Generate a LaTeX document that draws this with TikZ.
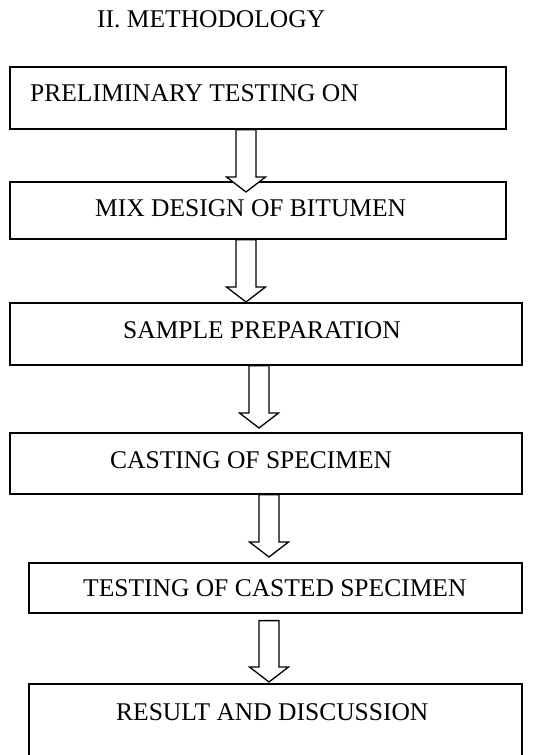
\documentclass[tikz,border=0pt]{standalone}
\usepackage{fontspec}
\setmainfont{Liberation Serif}
\usetikzlibrary{calc}
\newcommand\blkarrow[2]{%
  \draw[blockarr] ($(#1)+(-10,0)$) -- ($(#2)+(-10,-15)$) -- ($(#2)+(-19.5,-15)$) -- (#2)
    -- ($(#2)+(19.5,-15)$) -- ($(#2)+(10,-15)$) -- ($(#1)+(10,0)$) -- cycle;}
\begin{document}
\begin{tikzpicture}[x=1pt,y=-1pt,
  stepbox/.style={draw, line width=1.6pt, rectangle, inner sep=0pt, anchor=north west},
  lbl/.style={font=\fontsize{25.5}{30}\selectfont, anchor=base west, inner sep=0pt},
  blockarr/.style={draw, fill=white, line width=1.3pt, line join=miter}]
\useasboundingbox (0,0) rectangle (539,755);
\clip (0,0) rectangle (539,755);
\fill[white] (0,0) rectangle (539,755);

\node[lbl] (title) at (97,27) {II. METHODOLOGY};

\node[stepbox, minimum width=496pt, minimum height=62pt] (b1) at (9,66) {};
\node[stepbox, minimum width=496pt, minimum height=57pt] (b2) at (9,181) {};
\node[stepbox, minimum width=512pt, minimum height=62pt] (b3) at (9,302) {};
\node[stepbox, minimum width=512pt, minimum height=61pt] (b4) at (9,432) {};
\node[stepbox, minimum width=493pt, minimum height=50pt] (b5) at (28,562) {};
\node[stepbox, minimum width=493pt, minimum height=110pt] (b6) at (28,683) {};

\node[lbl] (t1) at (30,101.5) {PRELIMINARY TESTING ON};
\node[lbl] (t2) at (95,216.5) {MIX DESIGN OF BITUMEN};
\node[lbl] (t3) at (123,338.3) {SAMPLE PREPARATION};
\node[lbl] (t4) at (110,468.3) {CASTING OF SPECIMEN};
\node[lbl] (t5) at (83,596.7) {TESTING OF CASTED SPECIMEN};
\node[lbl] (t6) at (116,720) {RESULT AND DISCUSSION};

\coordinate (a1s) at ($(b1.south west)+(237,0)$);
\coordinate (a1t) at ($(b2.north west)+(237,11)$);
\coordinate (a2s) at ($(b2.south west)+(237,0)$);
\coordinate (a2t) at ($(b3.north west)+(237,0)$);
\coordinate (a3s) at ($(b3.south west)+(250,0)$);
\coordinate (a3t) at ($(b4.north west)+(250,-4)$);
\coordinate (a4s) at ($(b4.south west)+(260,0)$);
\coordinate (a4t) at ($(b5.north west)+(241,-5)$);
\coordinate (a5s) at ($(b5.south west)+(241,7)$);
\coordinate (a5t) at ($(b6.north west)+(241,-1)$);

\blkarrow{a1s}{a1t}
\blkarrow{a2s}{a2t}
\blkarrow{a3s}{a3t}
\blkarrow{a4s}{a4t}
\blkarrow{a5s}{a5t}
\end{tikzpicture}
\end{document}
